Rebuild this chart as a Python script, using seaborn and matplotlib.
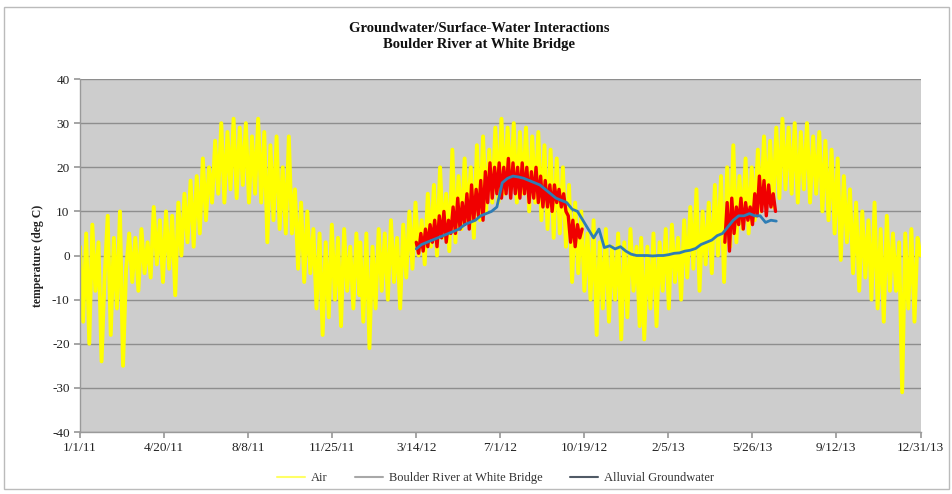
import matplotlib
matplotlib.use("Agg")
import matplotlib.pyplot as plt
from matplotlib.lines import Line2D
import seaborn as sns
import pandas as pd
import numpy as np

# ---------------- data ----------------
# Air temperature, one value every 4 days starting Jan 1 of each year
air_2011 = [2, -15, 5, -20, 7, -8, 3, -24,
            -5, 9, -18, 4, -12, 10, -25,
            -3, 5, -6, 4, -8, 6, -4, 3,
            -5, 11, -2, 8, -6, 10, -3,
            9, -9, 12, 0, 14, 3, 17, 2,
            18, 5, 22, 8, 20, 12, 26,
            14, 30, 12, 28, 15, 31, 13, 29,
            16, 30, 12, 27, 14, 31, 12, 28,
            3, 25, 8, 27, 6, 20, 5,
            27, 5, 15, -3, 12, -6, 10, -4,
            6, -12, 5, -18, 3, -14, 7,
            -10, 4, -16, 6, -8, 2, -12, 5, -9]
air_2012 = [3, -15, 5, -21, 2, -12, 6, -8,
            5, -10, 8, -6, 4, -12, 7,
            -5, 10, -3, 12, 0, 8, -2, 14,
            2, 16, 0, 20, 4, 14, 1,
            24, 3, 18, 6, 22, 8, 20, 4,
            25, 8, 27, 10, 24, 12, 29,
            12, 31, 14, 29, 15, 30, 12, 28,
            14, 29, 10, 27, 12, 28, 8, 25,
            6, 24, 4, 22, 5, 20, 2,
            16, -6, 12, -4, 10, -8, 5, -10,
            8, -18, 3, -12, 6, -15, 2,
            -10, 5, -19, 3, -14, 6, -8, 2, -16]
air_2013 = [4, -19, 2, -12, 5, -16, 3, -8,
            6, -12, 7, -6, 4, -10, 8,
            -5, 11, -3, 15, -8, 10, -2, 12,
            -4, 16, 0, 18, -6, 20, 2,
            25, 3, 18, 6, 22, 5, 20, 8,
            24, 10, 27, 12, 26, 11, 29,
            13, 31, 15, 29, 14, 30, 12, 28,
            15, 30, 12, 27, 14, 28, 10, 26,
            8, 24, 5, 22, -1, 18, 3,
            15, -4, 12, -8, 10, -5, 8, -10,
            12, -12, 6, -15, 9, -8, 5,
            -8, 3, -31, 5, -12, 6, -15, 4, 0]

# Boulder River at White Bridge, every 3 days
river_2012 = [3, 0.5, 5, 1, 6, 2,
              7, 3, 8, 2, 9, 4, 10, 3, 8, 5,
              11, 5, 13, 6, 12, 7, 14, 6, 16, 8,
              15, 9, 17, 8, 19, 12, 21, 13, 20, 14,
              21, 13, 20, 14, 22, 13, 21, 14, 20, 13,
              21, 14, 20, 12, 19, 13, 20, 12, 18, 11,
              17, 11, 16, 10, 16, 12, 15, 11, 14, 10,
              9, 3, 8, 2, 7, 4, 6]
river_2013 = [3, 12, 1, 13, 5, 11, 7, 13, 6, 12, 8, 11,
              7, 14, 9, 18, 10, 17, 9, 16, 11, 14, 10]

# Alluvial groundwater, weekly from 3/14/12
gw = [1.5, 2.5, 3, 3.5, 4, 4.5, 5, 5.5, 6, 7, 7.5, 8, 9, 9.5, 10, 11,
      16.5, 17.5, 18, 17.8, 17.5, 17, 16.5, 16, 15, 14, 13, 12.5, 12,
      10.5, 10, 8, 6, 4, 6, 1.8, 2.2, 1.5, 2, 1, 0.3, 0, 0, 0, -0.1, 0,
      0, 0.2, 0.5, 0.6, 1, 1.2, 1.6, 2.5, 3, 3.5, 4.5, 5, 6.5, 8, 9, 9,
      9.5, 9, 9, 7.5, 8, 7.8]

tick_dates = ["2011-01-01", "2011-04-20", "2011-08-08", "2011-11-25",
              "2012-03-14", "2012-07-01", "2012-10-19", "2013-02-05",
              "2013-05-26", "2013-09-12", "2013-12-31"]
tick_labels = ["1/1/11", "4/20/11", "8/8/11", "11/25/11", "3/14/12", "7/1/12",
               "10/19/12", "2/5/13", "5/26/13", "9/12/13", "12/31/13"]

# ---------------- build frames ----------------
air_df = pd.concat([
    pd.DataFrame({"date": pd.date_range(f"{yr}-01-01", periods=len(v), freq="4D"),
                  "temp": v})
    for yr, v in [(2011, air_2011), (2012, air_2012), (2013, air_2013)]
], ignore_index=True)
riv1 = pd.DataFrame({"date": pd.date_range("2012-03-14", periods=len(river_2012), freq="3D"),
                     "temp": river_2012})
riv2 = pd.DataFrame({"date": pd.date_range("2013-04-20", periods=len(river_2013), freq="3D"),
                     "temp": river_2013})
gw_df = pd.DataFrame({"date": pd.date_range("2012-03-14", periods=len(gw), freq="7D"),
                      "temp": gw})

# ---------------- plot ----------------
sns.set_theme(style="white")
plt.rcParams["font.family"] = ["Liberation Serif", "DejaVu Serif"]
plt.rcParams["axes.unicode_minus"] = False

fig = plt.figure(figsize=(9.53, 4.94), dpi=100)
fig.patch.set_facecolor("white")
ax = fig.add_axes([0.084, 0.1255, 0.882, 0.7145])
ax.set_facecolor("#CDCDCD")

sns.lineplot(data=air_df, x="date", y="temp", ax=ax, color="#FFFF00", lw=2.8,
             estimator=None, sort=False, zorder=2)
sns.lineplot(data=riv1, x="date", y="temp", ax=ax, color="#F00000", lw=2.4,
             estimator=None, sort=False, zorder=3)
sns.lineplot(data=riv2, x="date", y="temp", ax=ax, color="#F00000", lw=2.4,
             estimator=None, sort=False, zorder=3)
sns.lineplot(data=gw_df, x="date", y="temp", ax=ax, color="#2E7DB5", lw=2.0,
             estimator=None, sort=False, zorder=4)

ax.set_ylim(-40, 40)
ax.set_yticks(np.arange(-40, 41, 10))
ax.set_xlim(pd.Timestamp("2011-01-01"), pd.Timestamp("2013-12-31"))
ax.set_xticks(pd.to_datetime(tick_dates))
ax.set_xticklabels(tick_labels)
ax.yaxis.grid(True, color="#8E8E8E", lw=1.0)
ax.set_axisbelow(True)
for s in ["top", "right"]:
    ax.spines[s].set_visible(False)
for s in ["left", "bottom"]:
    ax.spines[s].set_color("#9A9A9A")
    ax.spines[s].set_linewidth(1.0)
ax.tick_params(axis="both", which="major", length=4, color="#9A9A9A",
               labelsize=9.5, colors="#222222", direction="out",
               bottom=True, left=True)
ax.set_xlabel("")
ax.set_ylabel("temperature (deg C)", fontsize=8.5, fontweight="bold",
              color="#222222", labelpad=6)

fig.suptitle("Groundwater/Surface-Water Interactions\nBoulder River at White Bridge",
             x=0.503, y=0.955, fontsize=10.5, fontweight="bold", color="#111111",
             linespacing=1.3)

handles = [Line2D([], [], color="#FFFF66", lw=1.5),
           Line2D([], [], color="#A8A8A8", lw=1.5),
           Line2D([], [], color="#505A66", lw=1.5)]
fig.legend(handles, ["Air", "Boulder River at White Bridge", "Alluvial Groundwater"],
           loc="center", bbox_to_anchor=(0.52, 0.032), ncol=3, frameon=False,
           fontsize=9, handlelength=2.2, columnspacing=2.2, handletextpad=0.5,
           labelcolor="#333333")

# outer frame
fig.add_artist(plt.Rectangle((0.004, 0.01), 0.992, 0.975, transform=fig.transFigure,
                             fill=False, edgecolor="#BBBBBB", lw=1.0))

fig.savefig("out.png", dpi=100, facecolor="white")
